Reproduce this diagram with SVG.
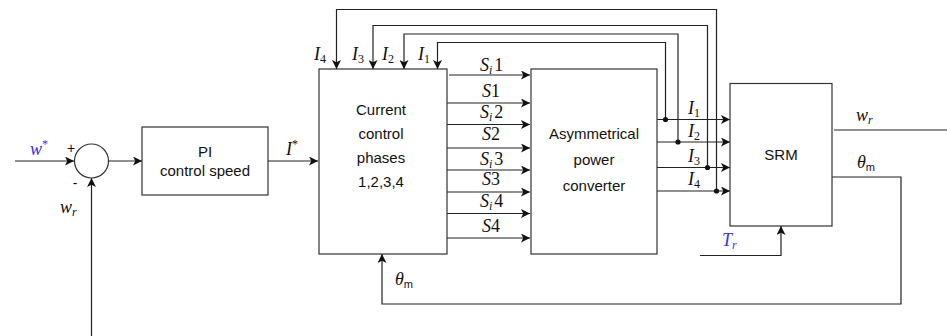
<svg xmlns="http://www.w3.org/2000/svg" width="947" height="336" viewBox="0 0 947 336">
<style>
.box{fill:#fff;stroke:#333;stroke-width:1.2}
.ln{fill:none;stroke:#222;stroke-width:1.2}
.ar{fill:none;stroke:#222;stroke-width:1.2;marker-end:url(#ah)}
.t{font-family:"Liberation Sans",Arial,sans-serif;font-size:15px;fill:#111;text-anchor:middle}
.m{font-family:"Liberation Serif","Times New Roman",serif;font-style:italic;font-size:18px;fill:#111}
.b{fill:#3333ee}
.sub{font-size:12px}
.n{font-style:normal}
.up{font-family:"Liberation Sans",Arial,sans-serif;font-style:normal;font-size:11px}
.dot{fill:#111}
</style>
<defs>
<marker id="ah" viewBox="0 0 10 10" refX="10" refY="5" markerWidth="9" markerHeight="9" markerUnits="userSpaceOnUse" orient="auto">
<path d="M0,0 L10,5 L0,10 L2.5,5 Z" fill="#111"/>
</marker>
</defs>

<g id="connectors">
<path class="ar" d="M15,161 H74"/>
<path class="ar" d="M91.5,336 V178"/>
<path class="ar" d="M109,161 H142"/>
<path class="ar" d="M268,161 H318"/>
<path class="ar" d="M449,75 H530"/>
<path class="ar" d="M447,103 H530"/>
<path class="ar" d="M447,124.5 H530"/>
<path class="ar" d="M447,148 H530"/>
<path class="ar" d="M447,170 H530"/>
<path class="ar" d="M447,192 H530"/>
<path class="ar" d="M447,213.5 H530"/>
<path class="ar" d="M447,238 H530"/>
<path class="ar" d="M657,119.5 H730"/>
<path class="ar" d="M657,142 H730"/>
<path class="ar" d="M657,167.5 H730"/>
<path class="ar" d="M657,191 H730"/>
<path class="ar" d="M665.5,119.5 V42.5 H437.5 V69"/>
<path class="ar" d="M678,142 V34 H404 V69"/>
<path class="ar" d="M707.5,167.5 V25.5 H373 V69"/>
<path class="ar" d="M716.5,191 V9.5 H336.5 V69"/>
<path class="ln" d="M834,130 H947"/>
<path class="ar" d="M832,177 H901 V304 H382 V254"/>
<path class="ar" d="M700,255.5 H781 V226"/>
<circle class="dot" cx="665.5" cy="119.5" r="2.6"/>
<circle class="dot" cx="678" cy="142" r="2.6"/>
<circle class="dot" cx="707.5" cy="167.5" r="2.6"/>
<circle class="dot" cx="716.5" cy="191" r="2.6"/>
</g>

<g id="sum">
<circle cx="91.5" cy="161" r="17" class="box"/>
<text x="71" y="153" class="t" style="font-size:14px">+</text>
<text x="75" y="188" class="t" style="font-size:14px">-</text>
</g>

<g id="pi">
<rect class="box" x="142" y="127" width="126" height="68"/>
<text class="t" x="205" y="157">PI</text>
<text class="t" x="205" y="176">control speed</text>
</g>

<g id="current">
<rect class="box" x="319" y="69" width="128" height="185"/>
<text class="t" x="381" y="115">Current</text>
<text class="t" x="381" y="139">control</text>
<text class="t" x="381" y="163">phases</text>
<text class="t" x="381" y="187">1,2,3,4</text>
</g>

<g id="converter">
<rect class="box" x="531" y="69" width="126" height="185"/>
<text class="t" x="594" y="139">Asymmetrical</text>
<text class="t" x="594" y="165">power</text>
<text class="t" x="594" y="191">converter</text>
</g>

<g id="srm">
<rect class="box" x="730" y="83.5" width="102" height="142.5"/>
<text class="t" x="781" y="160">SRM</text>
</g>

<g id="labels">
<text class="m b" x="30" y="155">w<tspan class="sub n" dy="-7">*</tspan></text>
<text class="m" x="60" y="213">w<tspan class="sub" dy="3">r</tspan></text>
<text class="m" x="286" y="155">I<tspan class="sub n" dy="-7">*</tspan></text>

<text class="m" x="314" y="60">I<tspan class="sub n" dy="3">4</tspan></text>
<text class="m" x="352" y="60">I<tspan class="sub n" dy="3">3</tspan></text>
<text class="m" x="382" y="60">I<tspan class="sub n" dy="3">2</tspan></text>
<text class="m" x="418" y="60">I<tspan class="sub n" dy="3">1</tspan></text>

<text class="m" x="480" y="71">S<tspan class="sub" dy="3">i</tspan><tspan class="n" dy="-3" dx="2">1</tspan></text>
<text class="m" x="482" y="97">S<tspan class="n">1</tspan></text>
<text class="m" x="480" y="118">S<tspan class="sub" dy="3">i</tspan><tspan class="n" dy="-3" dx="2">2</tspan></text>
<text class="m" x="482" y="140">S<tspan class="n">2</tspan></text>
<text class="m" x="480" y="165">S<tspan class="sub" dy="3">i</tspan><tspan class="n" dy="-3" dx="2">3</tspan></text>
<text class="m" x="482" y="185">S<tspan class="n">3</tspan></text>
<text class="m" x="480" y="207">S<tspan class="sub" dy="3">i</tspan><tspan class="n" dy="-3" dx="2">4</tspan></text>
<text class="m" x="482" y="232">S<tspan class="n">4</tspan></text>

<text class="m" x="688" y="114">I<tspan class="sub n" dy="3">1</tspan></text>
<text class="m" x="688" y="137">I<tspan class="sub n" dy="3">2</tspan></text>
<text class="m" x="688" y="162">I<tspan class="sub n" dy="3">3</tspan></text>
<text class="m" x="688" y="185">I<tspan class="sub n" dy="3">4</tspan></text>

<text class="m" x="856" y="121">w<tspan class="sub" dy="3">r</tspan></text>
<text class="m" x="857" y="168">θ<tspan class="up" dy="3">m</tspan></text>
<text class="m" x="395" y="285">θ<tspan class="up" dy="3">m</tspan></text>
<text class="m b" x="722" y="246">T<tspan class="sub" dy="3">r</tspan></text>
</g>
</svg>
